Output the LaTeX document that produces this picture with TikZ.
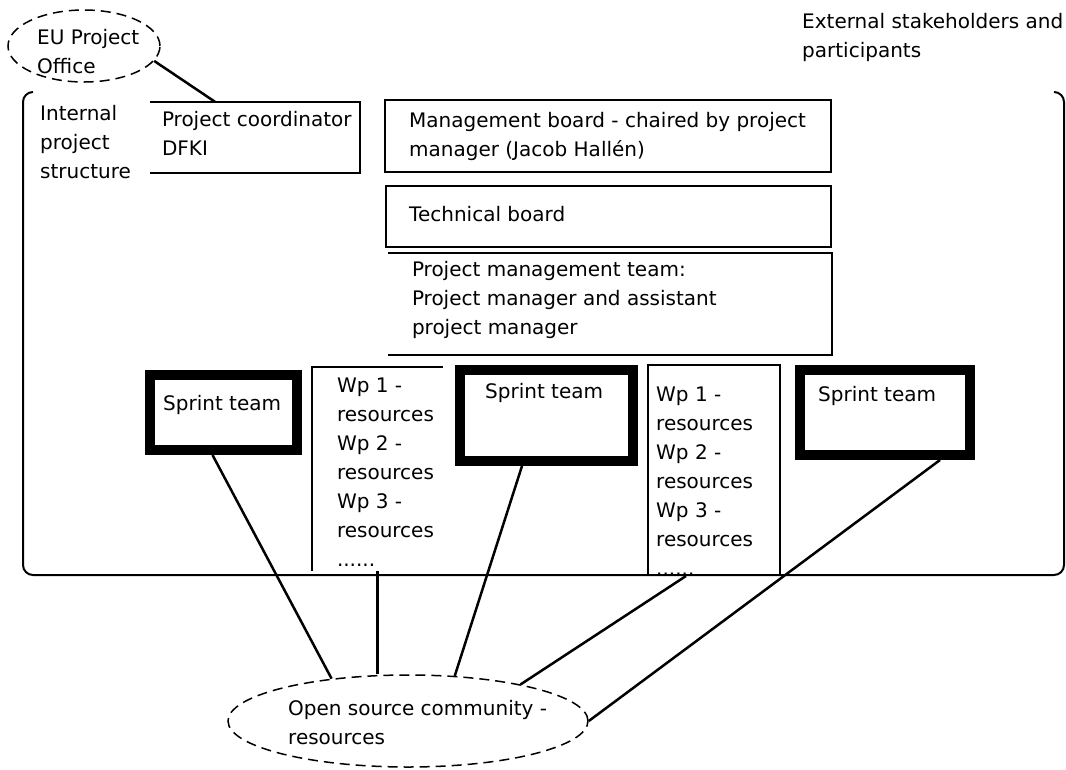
\documentclass[tikz,border=0pt]{standalone}
\usepackage{fontspec}
\setmainfont{DejaVu Sans}
\usepackage{tikz}
\usetikzlibrary{positioning, shapes.geometric}

\tikzset{
    boxline/.style={line width=2pt},
    plain/.style={rectangle, inner sep=0pt},
    boxed/.style={plain, draw, line width=2pt},
    sprint/.style={plain, draw, line width=10pt, fill=white},
    cloud/.style={ellipse, draw, inner sep=0pt, line width=1.5pt, dash pattern=on 10pt off 6pt},
    txt/.style={align=left, inner sep=0pt},
    link/.style={line width=2.5pt}
}

\begin{document}
\begin{tikzpicture}[x=1pt, y=-1pt, font=\fontsize{20}{29}\selectfont]
    \useasboundingbox (0,0) rectangle (1066,769);

    % Draw outer frame (no top edge)
    \draw[boxline, rounded corners=10pt] (33,92) -- (23,92) -- (23,575) -- (1064,575) -- (1064,92) -- (1054,92);

    % Labels outside the frame
    \node[txt, anchor=west] (ext) at (802,37) {External stakeholders and\\participants};
    \node[cloud, minimum width=152pt, minimum height=72pt] (eu) at (84,46) {};
    \node[txt, anchor=west] (euTxt) at (37,52) {EU Project\\Office};
    \node[txt, anchor=west] (intTxt) at (40,142) {Internal\\project\\structure};

    % Coordinator box, open on the left
    \node[plain, minimum width=210pt, minimum height=71pt] (coord) at (255,137.5) {};
    \draw[boxline] (coord.north west) -- (coord.north east) -- (coord.south east) -- (coord.south west);
    \node[txt, right=12pt of coord.west, yshift=4pt] (coordTxt) {Project coordinator\\DFKI};

    % Boards
    \node[boxed, minimum width=446pt, minimum height=72pt] (mgmt) at (608,136) {};
    \node[txt, right=25pt of mgmt.west] (mgmtTxt) {Management board - chaired by project\\manager (Jacob Hallén)};
    \node[boxed, minimum width=445pt, minimum height=61pt] (tech) at (608.5,216.5) {};
    \node[txt, right=24pt of tech.west, yshift=2pt] (techTxt) {Technical board};
    \node[plain, minimum width=444pt, minimum height=102pt] (pmt) at (610,304) {};
    \draw[boxline] (pmt.north west) -- (pmt.north east) -- (pmt.south east) -- (pmt.south west);
    \node[txt, right=24pt of pmt.west, yshift=4pt] (pmtTxt) {Project management team:\\Project manager and assistant\\project manager};

    % Work package resources
    \node[plain, minimum width=131pt, minimum height=204pt] (wpA) at (377.5,469) {};
    \draw[boxline] (wpA.south west) -- (wpA.north west) -- (wpA.north east);
    \node[txt, anchor=north west] (wpATxt) at ([xshift=25pt, yshift=-11pt]wpA.north west) {Wp 1 -\\resources\\Wp 2 -\\resources\\Wp 3 -\\resources\\......};
    \node[boxed, minimum width=132pt, minimum height=210pt] (wpB) at (714,470) {};
    \node[txt, anchor=north west] (wpBTxt) at ([xshift=9pt, yshift=-23pt]wpB.north west) {Wp 1 -\\resources\\Wp 2 -\\resources\\Wp 3 -\\resources\\......};

    % Sprint teams
    \node[sprint, minimum width=147pt, minimum height=75pt] (sA) at (223.5,412.5) {};
    \node[txt, anchor=west] (sATxt) at ([xshift=18pt, yshift=-35pt]sA.north west) {Sprint team};
    \node[sprint, minimum width=173pt, minimum height=91pt] (sB) at (546.5,415.5) {};
    \node[txt, anchor=west] (sBTxt) at ([xshift=30pt, yshift=-28pt]sB.north west) {Sprint team};
    \node[sprint, minimum width=170pt, minimum height=85pt] (sC) at (885,412.5) {};
    \node[txt, anchor=west] (sCTxt) at ([xshift=23pt, yshift=-31pt]sC.north west) {Sprint team};

    % Community
    \node[cloud, minimum width=360pt, minimum height=92pt] (osc) at (408,721) {};
    \node[txt, anchor=west] (oscTxt) at (288,723) {Open source community -\\resources};

    % Connectors
    \draw[link] (eu.348) -- ([xshift=-40pt]coord.north);
    \draw[link] ([xshift=-11pt]sA.south) -- (osc.151);
    \draw[link, line width=3.5pt] (wpA.south) -- (wpA.south |- osc.north);
    \draw[link] ([xshift=-24.5pt]sB.south) -- (osc.44);
    \draw[link] ([xshift=-28pt]wpB.south) -- (osc.18);
    \draw[link] ([xshift=55pt]sC.south) -- (osc.east);
\end{tikzpicture}
\end{document}
